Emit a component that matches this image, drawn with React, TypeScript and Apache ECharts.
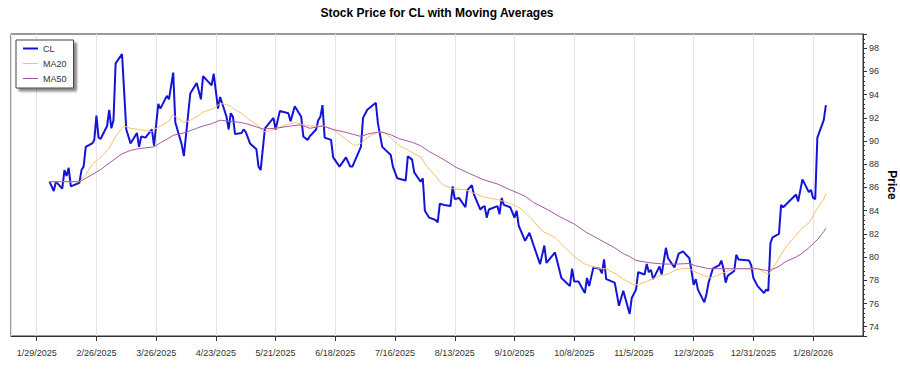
import React, { useEffect, useRef } from "react";
import * as echarts from "echarts";

const TITLE = "Stock Price for CL with Moving Averages";
const Y_NAME = "Price";
const BASE_DATE = "2025-01-29";
const FONT = "'Liberation Sans', Arial, sans-serif";

const clDates = [
  "2025-02-04","2025-02-06","2025-02-07","2025-02-10","2025-02-11","2025-02-12","2025-02-13","2025-02-14",
  "2025-02-18","2025-02-19","2025-02-20","2025-02-21","2025-02-24","2025-02-25","2025-02-26","2025-02-27",
  "2025-02-28","2025-03-03","2025-03-04","2025-03-05","2025-03-06","2025-03-07","2025-03-10","2025-03-12",
  "2025-03-14","2025-03-17","2025-03-18","2025-03-19","2025-03-21","2025-03-24","2025-03-25","2025-03-27",
  "2025-03-28","2025-03-31","2025-04-01","2025-04-03","2025-04-04","2025-04-07","2025-04-08","2025-04-11",
  "2025-04-14","2025-04-16","2025-04-17","2025-04-21","2025-04-22","2025-04-24","2025-04-25","2025-04-28",
  "2025-04-29","2025-04-30","2025-05-01","2025-05-02","2025-05-05","2025-05-06","2025-05-07","2025-05-09",
  "2025-05-12","2025-05-13","2025-05-14","2025-05-16","2025-05-20","2025-05-21","2025-05-23","2025-05-27",
  "2025-05-28","2025-05-30","2025-06-02","2025-06-03","2025-06-05","2025-06-06","2025-06-09","2025-06-10",
  "2025-06-11","2025-06-12","2025-06-13","2025-06-16","2025-06-17","2025-06-20","2025-06-23","2025-06-25",
  "2025-06-26","2025-06-30","2025-07-01","2025-07-03","2025-07-07","2025-07-08","2025-07-10","2025-07-14",
  "2025-07-15","2025-07-17","2025-07-21","2025-07-22","2025-07-24","2025-07-25","2025-07-28","2025-07-29",
  "2025-07-30","2025-08-01","2025-08-04","2025-08-05","2025-08-06","2025-08-08","2025-08-11","2025-08-12",
  "2025-08-13","2025-08-15","2025-08-18","2025-08-19","2025-08-21","2025-08-22","2025-08-25","2025-08-26",
  "2025-08-27","2025-08-28","2025-08-29","2025-09-02","2025-09-03","2025-09-04","2025-09-05","2025-09-08",
  "2025-09-10","2025-09-11","2025-09-12","2025-09-15","2025-09-17","2025-09-19","2025-09-22","2025-09-24",
  "2025-09-25","2025-09-29","2025-10-02","2025-10-06","2025-10-07","2025-10-08","2025-10-10","2025-10-13",
  "2025-10-14","2025-10-15","2025-10-17","2025-10-20","2025-10-21","2025-10-22","2025-10-23","2025-10-27",
  "2025-10-29","2025-10-31","2025-11-03","2025-11-04","2025-11-06","2025-11-07","2025-11-10","2025-11-11",
  "2025-11-12","2025-11-13","2025-11-14","2025-11-17","2025-11-18","2025-11-20","2025-11-21","2025-11-24",
  "2025-11-26","2025-11-28","2025-12-01","2025-12-02","2025-12-03","2025-12-04","2025-12-05","2025-12-08",
  "2025-12-09","2025-12-10","2025-12-11","2025-12-12","2025-12-15","2025-12-16","2025-12-17","2025-12-18",
  "2025-12-19","2025-12-22","2025-12-23","2025-12-24","2025-12-29","2025-12-30","2025-12-31","2026-01-02",
  "2026-01-05","2026-01-06","2026-01-07","2026-01-08","2026-01-09","2026-01-12","2026-01-13","2026-01-14",
  "2026-01-20","2026-01-21","2026-01-23","2026-01-26","2026-01-27","2026-01-28","2026-01-29","2026-01-30",
  "2026-02-02","2026-02-03"
];
const clValues = [
  86.5,85.7,86.5,85.9,87.5,87.0,87.7,86.1,
  86.4,87.5,87.8,89.5,89.8,90.1,92.2,90.3,
  90.2,91.3,92.7,91.1,91.8,96.7,97.5,91.0,
  89.8,90.7,89.5,90.4,90.3,91.0,89.6,93.2,
  92.8,93.9,93.6,95.9,91.6,89.7,88.7,94.1,
  95.0,93.6,95.6,94.8,95.8,92.8,93.8,92.1,
  91.0,92.4,92.1,90.6,90.7,91.0,90.8,89.8,
  89.3,87.8,87.5,91.1,92.0,91.0,92.6,92.4,
  91.7,93.0,92.1,90.4,90.1,90.4,91.0,91.8,
  92.1,93.1,90.3,90.1,88.6,87.8,88.6,87.8,
  87.8,89.5,92.0,92.7,93.3,91.5,89.5,88.8,
  87.8,86.8,86.6,88.7,88.4,87.3,86.5,86.8,
  84.0,83.4,83.2,83.0,84.6,84.5,84.4,86.1,
  85.0,85.1,84.3,85.8,86.2,85.4,84.1,84.3,
  84.4,83.4,84.1,84.4,83.7,85.1,84.5,84.3,
  83.4,84.0,82.7,81.4,82.1,81.0,79.4,81.0,
  79.5,80.4,78.2,77.5,79.0,77.9,77.9,76.9,
  78.2,77.5,79.1,79.0,78.6,79.8,78.1,77.8,
  75.8,77.1,75.1,76.5,77.2,78.7,78.5,79.4,
  78.7,78.9,78.1,79.2,78.5,80.8,79.9,79.1,
  80.3,80.5,79.9,78.8,77.6,78.1,77.2,76.1,
  76.8,77.8,78.4,79.0,79.3,79.7,79.0,77.8,
  78.4,78.8,80.2,79.8,79.7,79.3,78.2,77.5,
  76.9,77.2,77.1,81.2,81.7,82.0,84.5,84.3,
  85.4,84.8,86.7,85.6,85.8,85.1,85.0,90.3,
  91.8,93.1
];

const ma20Dates = [
  "2025-02-04","2025-02-18","2025-02-21","2025-02-24","2025-02-28","2025-03-03","2025-03-04","2025-03-07",
  "2025-03-10","2025-03-11","2025-03-14","2025-03-18","2025-03-24","2025-03-25","2025-03-28","2025-03-31",
  "2025-04-01","2025-04-03","2025-04-04","2025-04-08","2025-04-11","2025-04-15","2025-04-17","2025-04-22",
  "2025-04-24","2025-04-25","2025-04-28","2025-04-30","2025-05-02","2025-05-05","2025-05-07","2025-05-09",
  "2025-05-13","2025-05-15","2025-05-19","2025-05-21","2025-05-27","2025-05-30","2025-06-02","2025-06-06",
  "2025-06-11","2025-06-13","2025-06-17","2025-06-20","2025-06-24","2025-06-27","2025-06-30","2025-07-03",
  "2025-07-07","2025-07-09","2025-07-11","2025-07-14","2025-07-15","2025-07-18","2025-07-21","2025-07-25",
  "2025-07-28","2025-07-31","2025-08-01","2025-08-04","2025-08-06","2025-08-08","2025-08-12","2025-08-15",
  "2025-08-18","2025-08-22","2025-08-26","2025-09-02","2025-09-05","2025-09-09","2025-09-12","2025-09-15",
  "2025-09-19","2025-09-23","2025-09-29","2025-10-01","2025-10-06","2025-10-08","2025-10-13","2025-10-17",
  "2025-10-20","2025-10-23","2025-10-28","2025-10-31","2025-11-05","2025-11-07","2025-11-11","2025-11-17",
  "2025-11-21","2025-11-25","2025-11-28","2025-12-01","2025-12-04","2025-12-08","2025-12-11","2025-12-15",
  "2025-12-19","2025-12-23","2025-12-26","2025-12-29","2026-01-02","2026-01-05","2026-01-07","2026-01-09",
  "2026-01-12","2026-01-15","2026-01-16","2026-01-20","2026-01-22","2026-01-23","2026-01-26","2026-01-27",
  "2026-01-29","2026-01-30","2026-02-02","2026-02-03"
];
const ma20Values = [
  86.5,86.5,87.1,88.0,88.6,89.2,89.4,90.4,
  91.1,91.3,91.1,91.0,90.8,91.0,91.3,91.6,
  91.7,92.3,92.1,91.6,91.8,92.2,92.5,92.8,
  93.1,93.25,93.15,93.0,92.7,92.4,92.1,91.8,
  91.3,90.8,90.9,91.1,91.45,91.6,91.45,91.3,
  91.3,91.3,91.0,90.6,90.0,89.6,89.8,90.3,
  90.7,90.8,90.75,90.3,90.1,89.6,89.35,88.9,
  88.65,87.8,87.6,87.0,86.5,86.2,85.9,85.85,
  85.8,85.5,85.2,84.95,84.8,84.55,84.3,83.85,
  83.1,82.25,81.7,81.3,80.4,80.05,79.4,79.15,
  79.0,79.0,78.5,78.1,77.6,77.65,77.9,78.4,
  78.55,78.9,79.05,79.0,78.7,78.4,78.2,78.5,
  78.8,79.0,79.0,79.0,79.0,78.7,78.5,79.0,
  79.9,80.8,81.05,81.9,82.3,82.55,82.95,83.2,
  83.9,84.2,85.0,85.5
];

const ma50Dates = [
  "2025-02-04","2025-02-18","2025-02-24","2025-02-28","2025-03-04","2025-03-10","2025-03-14","2025-03-18",
  "2025-03-25","2025-03-28","2025-03-31","2025-04-03","2025-04-08","2025-04-11","2025-04-14","2025-04-17",
  "2025-04-21","2025-04-25","2025-04-30","2025-05-05","2025-05-09","2025-05-15","2025-05-21","2025-05-28",
  "2025-06-02","2025-06-06","2025-06-12","2025-06-17","2025-06-23","2025-06-26","2025-06-30","2025-07-03",
  "2025-07-09","2025-07-14","2025-07-18","2025-07-24","2025-07-28","2025-08-01","2025-08-06","2025-08-11",
  "2025-08-14","2025-08-20","2025-08-26","2025-09-02","2025-09-08","2025-09-15","2025-09-19","2025-09-26",
  "2025-10-01","2025-10-08","2025-10-14","2025-10-20","2025-10-27","2025-10-31","2025-11-03","2025-11-06",
  "2025-11-13","2025-11-19","2025-11-25","2025-12-01","2025-12-04","2025-12-10","2025-12-17","2025-12-23",
  "2025-12-29","2026-01-02","2026-01-07","2026-01-09","2026-01-12","2026-01-15","2026-01-20","2026-01-23",
  "2026-01-26","2026-01-28","2026-01-30","2026-02-02","2026-02-03"
];
const ma50Values = [
  86.5,86.5,87.1,87.55,88.1,88.9,89.2,89.35,
  89.5,89.85,90.15,90.5,90.7,90.9,91.1,91.3,
  91.5,91.8,91.7,91.6,91.4,91.05,91.1,91.3,
  91.4,91.1,91.3,91.0,90.75,90.6,90.4,90.6,
  90.8,90.55,90.2,89.9,89.6,89.1,88.6,88.05,
  87.7,87.2,86.7,86.3,85.8,85.25,84.7,84.05,
  83.5,82.85,82.1,81.5,80.8,80.3,80.05,79.7,
  79.5,79.4,79.4,79.45,79.25,79.0,79.0,79.0,
  79.0,79.0,78.8,78.95,79.2,79.6,80.0,80.35,
  80.8,81.15,81.5,82.2,82.5
];

const DAY_MS = 86400000;
function dateMs(s: string): number {
  const [y, m, d] = s.split("-").map(Number);
  return Date.UTC(y, m - 1, d);
}
const BASE_MS = dateMs(BASE_DATE);
const toDays = (s: string) => (dateMs(s) - BASE_MS) / DAY_MS;
const pairs = (dates: string[], values: number[]) => dates.map((d, i) => [toDays(d), values[i]]);
const fmtDate = (v: number) => {
  const d = new Date(BASE_MS + Math.round(v) * DAY_MS);
  return `${d.getUTCMonth() + 1}/${d.getUTCDate()}/${d.getUTCFullYear()}`;
};

const CL_COLOR = "#1414d6";
const MA20_COLOR = "#f4c26f";
const MA50_COLOR = "#a35ba6";

export default function App() {
  const ref = useRef<HTMLDivElement>(null);
  useEffect(() => {
    document.body.style.margin = "0";
    const chart = echarts.init(ref.current!, null, { renderer: "svg" });
    chart.setOption({
      animation: false,
      backgroundColor: "#ffffff",
      title: {
        text: TITLE,
        left: 437,
        textAlign: "center",
        top: 7,
        padding: 0,
        textStyle: { fontFamily: FONT, fontSize: 12, fontWeight: "bold", color: "#000" },
      },
      legend: {
        orient: "vertical",
        left: 16,
        top: 40,
        backgroundColor: "#ffffff",
        borderColor: "#444",
        borderWidth: 1,
        borderRadius: 0,
        shadowBlur: 2,
        shadowColor: "rgba(0,0,0,0.45)",
        shadowOffsetX: 3,
        shadowOffsetY: 3,
        padding: [4, 7, 5, 7],
        itemWidth: 15,
        itemHeight: 10,
        itemGap: 6,
        textStyle: { fontFamily: FONT, fontSize: 9, color: "#333" },
        data: [
          { name: "CL", icon: "path://M0,0H15V2H0Z" },
          { name: "MA20", icon: "path://M0,0H15V1H0Z" },
          { name: "MA50", icon: "path://M0,0H15V1H0Z" },
        ],
      },
      grid: {
        left: 11,
        right: 37,
        top: 34,
        bottom: 39,
        show: true,
        borderColor: "#333",
        borderWidth: 1,
        backgroundColor: "transparent",
        containLabel: false,
        outerBoundsMode: "none",
      },
      xAxis: {
        type: "value",
        min: -12.05,
        max: 387.4,
        splitNumber: 14,
        minInterval: 28,
        maxInterval: 28,
        axisLine: { show: true, onZero: false, lineStyle: { color: "#333", width: 1 } },
        axisTick: { show: true, inside: false, length: 5, lineStyle: { color: "#333" } },
        axisLabel: {
          fontFamily: FONT,
          fontSize: 9,
          color: "#333",
          margin: 12,
          showMinLabel: false,
          showMaxLabel: false,
          formatter: (v: number) => fmtDate(v),
        },
        splitLine: { show: true, lineStyle: { color: "#e3e3e3", width: 1 } },
      },
      yAxis: {
        type: "value",
        position: "right",
        min: 73.2,
        max: 99.23,
        splitNumber: 13,
        minInterval: 2,
        maxInterval: 2,
        axisLine: { show: true, onZero: false, lineStyle: { color: "#333", width: 1 } },
        axisTick: { show: true, inside: false, length: 4, lineStyle: { color: "#333" } },
        minorTick: { show: true, splitNumber: 5, length: 2, lineStyle: { color: "#333" } },
        axisLabel: {
          fontFamily: FONT,
          fontSize: 9,
          color: "#333",
          margin: 6,
          showMinLabel: false,
          showMaxLabel: false,
        },
        splitLine: { show: false },
        name: Y_NAME,
        nameLocation: "middle",
        nameRotate: -90,
        nameGap: 23,
        nameMoveOverlap: false,
        nameTextStyle: { fontFamily: FONT, fontSize: 12, fontWeight: "bold", color: "#000" },
      },
      series: [
        {
          name: "CL",
          type: "line",
          data: pairs(clDates, clValues),
          symbol: "none",
          lineStyle: { color: CL_COLOR, width: 2 },
          itemStyle: { color: CL_COLOR },
        },
        {
          name: "MA20",
          type: "line",
          data: pairs(ma20Dates, ma20Values),
          symbol: "none",
          lineStyle: { color: MA20_COLOR, width: 1 },
          itemStyle: { color: MA20_COLOR },
        },
        {
          name: "MA50",
          type: "line",
          data: pairs(ma50Dates, ma50Values),
          symbol: "none",
          lineStyle: { color: MA50_COLOR, width: 1 },
          itemStyle: { color: MA50_COLOR },
        },
      ],
    });
    return () => chart.dispose();
  }, []);
  return <div ref={ref} style={{ width: 900, height: 375 }} />;
}
